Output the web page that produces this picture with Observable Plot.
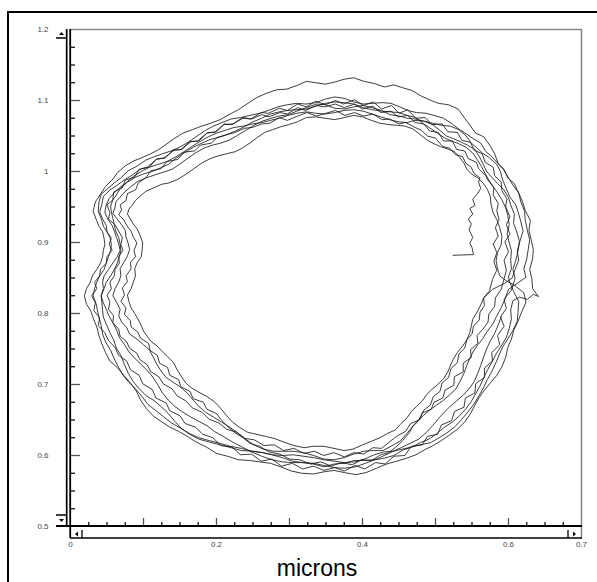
<!DOCTYPE html>
<html><head><meta charset="utf-8">
<script src="https://cdn.jsdelivr.net/npm/d3@7"></script>
<script src="https://cdn.jsdelivr.net/npm/@observablehq/plot@0.6"></script>
<style>
html,body{margin:0;padding:0;background:#fff;overflow:hidden;}
#chart{position:relative;width:597px;height:582px;}
</style></head><body><div id="chart"></div>
<script>
// Trajectory (microns), loop by loop, in drawing order
const loop1 = [[.524,.882],[.552,.883],[.550,.893],[.547,.899],[.551,.907],[.546,.918],[.549,.926],[.545,.933],[.551,.940],[.547,.948],[.554,.952],[.551,.961],[.557,.968],[.562,.976],[.559,.985],[.561,.991],[.553,.997],[.549,1.006],[.542,1.011],[.537,1.021],[.527,1.024],[.519,1.033],[.510,1.035],[.500,1.047],[.489,1.050],[.481,1.058],[.472,1.062],[.459,1.069],[.450,1.067],[.437,1.074],[.427,1.073],[.414,1.081],[.402,1.078],[.389,1.083],[.376,1.079],[.363,1.086],[.350,1.082],[.337,1.078],[.324,1.083],[.311,1.078],[.297,1.072],[.286,1.076],[.273,1.068],[.262,1.067],[.249,1.062],[.239,1.061],[.225,1.055],[.215,1.052],[.201,1.048],[.193,1.040],[.178,1.037],[.170,1.029],[.155,1.027],[.147,1.017],[.132,1.014],[.124,1.004],[.110,1.001],[.104,.992],[.093,.984],[.089,.974],[.078,.969],[.076,.959],[.068,.953],[.070,.946],[.066,.939],[.073,.932],[.077,.924],[.083,.916],[.086,.908],[.091,.899],[.087,.889],[.089,.880],[.082,.872],[.083,.863],[.076,.853],[.078,.845],[.071,.836],[.074,.826],[.069,.817],[.076,.808],[.074,.799],[.082,.790],[.083,.781],[.092,.774],[.096,.765],[.107,.758],[.109,.748],[.119,.741],[.122,.730],[.133,.724],[.136,.713],[.148,.707],[.151,.697],[.164,.690],[.168,.680],[.182,.675],[.187,.665],[.200,.659],[.206,.651],[.214,.642],[.225,.632],[.235,.626],[.246,.617],[.259,.613],[.272,.605],[.287,.602],[.300,.595],[.314,.594],[.329,.588],[.343,.591],[.357,.585],[.371,.590],[.386,.587],[.399,.594],[.412,.593],[.425,.601],[.436,.604],[.447,.613],[.455,.621],[.464,.632],[.470,.643],[.479,.652],[.484,.664],[.493,.671],[.497,.683],[.506,.690],[.509,.702],[.518,.710],[.521,.722],[.530,.731],[.532,.743],[.540,.751],[.543,.763],[.550,.771],[.552,.782],[.560,.791],[.561,.802],[.567,.811],[.566,.822],[.574,.832]];
const loop2 = [[.578,.848],[.584,.861],[.580,.873],[.584,.886],[.579,.898],[.586,.909],[.582,.921],[.587,.932],[.584,.945],[.586,.955],[.579,.967],[.580,.977],[.571,.989],[.569,.994],[.559,1.004],[.556,1.013],[.545,1.018],[.540,1.029],[.529,1.031],[.523,1.043],[.511,1.043],[.504,1.055],[.492,1.057],[.484,1.067],[.472,1.069],[.462,1.079],[.449,1.077],[.439,1.085],[.425,1.083],[.414,1.092],[.400,1.088],[.389,1.095],[.375,1.090],[.363,1.095],[.348,1.091],[.337,1.093],[.322,1.086],[.311,1.090],[.297,1.081],[.287,1.083],[.272,1.077],[.262,1.080],[.248,1.074],[.236,1.075],[.223,1.067],[.210,1.066],[.200,1.056],[.187,1.054],[.176,1.043],[.163,1.042],[.153,1.031],[.140,1.030],[.130,1.019],[.117,1.017],[.108,1.006],[.094,1.003],[.088,.992],[.075,.988],[.071,.977],[.059,.971],[.058,.960],[.050,.953],[.054,.942],[.052,.933],[.061,.925],[.066,.916],[.071,.907],[.069,.897],[.072,.889],[.066,.880],[.067,.871],[.061,.862],[.060,.853],[.054,.844],[.056,.835],[.050,.826],[.054,.816],[.052,.806],[.059,.797],[.058,.787],[.066,.778],[.068,.768],[.077,.760],[.081,.751],[.091,.744],[.095,.735],[.105,.728],[.110,.718],[.121,.711],[.127,.701],[.139,.694],[.146,.684],[.158,.677],[.167,.667],[.180,.661],[.190,.651],[.203,.646],[.214,.637],[.227,.633],[.239,.624],[.252,.622],[.265,.614],[.279,.615],[.292,.607],[.306,.610],[.320,.603],[.334,.606],[.347,.600],[.361,.604],[.375,.598],[.388,.604],[.402,.602],[.414,.611],[.426,.610],[.438,.620],[.448,.628],[.459,.634],[.466,.645],[.477,.650],[.482,.660],[.494,.665],[.498,.675],[.510,.681],[.513,.692],[.525,.699],[.526,.711],[.538,.718],[.538,.730],[.549,.738],[.548,.749],[.558,.758],[.557,.769],[.565,.778],[.572,.788],[.573,.799],[.581,.810],[.582,.822],[.590,.834]];
const loop3 = [[.594,.849],[.597,.861],[.594,.875],[.600,.887],[.595,.901],[.602,.912],[.597,.925],[.602,.936],[.596,.951],[.598,.961],[.591,.973],[.590,.985],[.581,.994],[.579,1.006],[.568,1.013],[.564,1.025],[.553,1.030],[.548,1.041],[.536,1.044],[.530,1.055],[.517,1.056],[.509,1.067],[.495,1.066],[.486,1.076],[.473,1.075],[.462,1.087],[.450,1.082],[.440,1.093],[.426,1.088],[.415,1.098],[.401,1.093],[.389,1.101],[.374,1.095],[.363,1.100],[.349,1.094],[.336,1.099],[.323,1.091],[.311,1.095],[.297,1.086],[.286,1.089],[.271,1.082],[.261,1.083],[.247,1.074],[.236,1.076],[.221,1.066],[.211,1.067],[.197,1.055],[.188,1.055],[.174,1.043],[.165,1.042],[.151,1.031],[.142,1.030],[.128,1.019],[.119,1.018],[.105,1.006],[.097,1.004],[.083,.994],[.075,.989],[.063,.980],[.054,.974],[.045,.965],[.043,.954],[.040,.943],[.044,.933],[.049,.924],[.050,.915],[.056,.906],[.053,.898],[.057,.889],[.050,.880],[.049,.871],[.041,.862],[.040,.853],[.033,.844],[.036,.835],[.029,.825],[.034,.815],[.032,.804],[.040,.794],[.038,.783],[.047,.773],[.052,.762],[.061,.752],[.066,.741],[.077,.733],[.082,.721],[.094,.713],[.099,.701],[.112,.693],[.117,.681],[.131,.674],[.136,.663],[.150,.656],[.157,.645],[.171,.640],[.181,.630],[.195,.625],[.206,.614],[.221,.612],[.233,.601],[.248,.602],[.261,.592],[.276,.595],[.289,.585],[.304,.589],[.318,.581],[.333,.585],[.347,.579],[.362,.583],[.375,.578],[.390,.586],[.403,.581],[.418,.590],[.431,.588],[.443,.599],[.458,.600],[.467,.613],[.482,.615],[.489,.627],[.503,.630],[.508,.643],[.522,.649],[.526,.662],[.539,.668],[.541,.681],[.554,.688],[.555,.701],[.567,.710],[.567,.723],[.578,.733],[.577,.745],[.588,.756],[.585,.769],[.594,.782],[.589,.795],[.597,.807],[.594,.820],[.604,.833]];
const loop4 = [[.609,.850],[.606,.862],[.610,.875],[.613,.888],[.615,.901],[.612,.913],[.607,.927],[.608,.940],[.603,.953],[.600,.963],[.594,.974],[.585,.983],[.578,.991],[.570,1.000],[.565,1.011],[.560,1.021],[.554,1.031],[.544,1.037],[.534,1.042],[.525,1.046],[.515,1.050],[.506,1.058],[.496,1.066],[.484,1.071],[.472,1.074],[.461,1.075],[.451,1.078],[.438,1.080],[.426,1.086],[.413,1.090],[.401,1.093],[.388,1.091],[.376,1.088],[.362,1.089],[.349,1.094],[.337,1.095],[.323,1.090],[.310,1.085],[.298,1.080],[.285,1.078],[.275,1.075],[.263,1.071],[.251,1.065],[.240,1.058],[.229,1.051],[.217,1.044],[.206,1.040],[.194,1.037],[.183,1.033],[.171,1.026],[.160,1.018],[.149,1.010],[.139,1.003],[.127,.999],[.115,.995],[.104,.991],[.092,.986],[.082,.978],[.074,.971],[.067,.963],[.062,.957],[.061,.949],[.058,.941],[.064,.933],[.070,.925],[.075,.917],[.076,.908],[.079,.899],[.081,.890],[.078,.881],[.073,.872],[.068,.863],[.069,.853],[.066,.844],[.061,.835],[.058,.825],[.063,.816],[.068,.806],[.066,.797],[.070,.788],[.077,.780],[.081,.771],[.091,.764],[.100,.756],[.108,.749],[.113,.739],[.118,.729],[.124,.719],[.131,.710],[.141,.703],[.151,.696],[.160,.688],[.168,.678],[.176,.669],[.185,.661],[.196,.654],[.207,.647],[.218,.640],[.229,.632],[.240,.623],[.251,.615],[.264,.609],[.278,.606],[.291,.606],[.305,.606],[.319,.604],[.333,.600],[.347,.595],[.361,.594],[.375,.597],[.388,.602],[.402,.606],[.415,.607],[.428,.607],[.439,.613],[.451,.620],[.460,.630],[.468,.640],[.476,.648],[.483,.656],[.491,.663],[.500,.670],[.510,.677],[.519,.685],[.528,.694],[.534,.705],[.539,.716],[.543,.727],[.547,.737],[.552,.747],[.558,.756],[.565,.765],[.571,.775],[.579,.786],[.584,.797],[.590,.808],[.595,.820],[.600,.834]];
const loop5 = [[.624,.851],[.621,.863],[.625,.877],[.627,.890],[.629,.904],[.626,.916],[.623,.931],[.622,.944],[.617,.957],[.614,.969],[.608,.983],[.599,.991],[.594,1.003],[.586,1.011],[.581,1.025],[.575,1.036],[.566,1.049],[.555,1.054],[.548,1.064],[.540,1.075],[.531,1.088],[.518,1.094],[.504,1.096],[.494,1.100],[.481,1.106],[.468,1.114],[.455,1.118],[.443,1.122],[.430,1.119],[.416,1.124],[.402,1.127],[.388,1.132],[.375,1.130],[.362,1.126],[.349,1.123],[.336,1.125],[.323,1.127],[.310,1.121],[.296,1.116],[.282,1.115],[.268,1.110],[.255,1.104],[.243,1.096],[.230,1.087],[.217,1.080],[.205,1.073],[.192,1.068],[.180,1.064],[.167,1.059],[.154,1.054],[.143,1.047],[.132,1.039],[.121,1.031],[.110,1.025],[.099,1.020],[.087,1.015],[.075,1.008],[.065,.999],[.057,.988],[.048,.979],[.041,.968],[.034,.957],[.031,.944],[.035,.933],[.039,.923],[.044,.915],[.046,.906],[.047,.897],[.045,.889],[.044,.880],[.041,.871],[.036,.862],[.030,.853],[.027,.844],[.022,.835],[.019,.825],[.022,.813],[.028,.803],[.032,.791],[.036,.781],[.039,.769],[.043,.757],[.048,.745],[.054,.733],[.064,.724],[.073,.713],[.083,.701],[.090,.691],[.096,.678],[.104,.666],[.113,.656],[.124,.648],[.136,.640],[.148,.634],[.160,.627],[.172,.619],[.186,.612],[.200,.603],[.215,.599],[.230,.594],[.245,.593],[.259,.591],[.274,.589],[.288,.584],[.303,.578],[.317,.575],[.333,.574],[.347,.577],[.361,.579],[.375,.576],[.391,.573],[.405,.576],[.419,.582],[.433,.588],[.447,.592],[.460,.596],[.473,.601],[.485,.608],[.497,.614],[.508,.621],[.518,.628],[.530,.637],[.540,.647],[.548,.659],[.554,.671],[.560,.682],[.567,.692],[.575,.702],[.584,.713],[.591,.725],[.596,.738],[.599,.752],[.604,.764],[.607,.776],[.613,.789],[.618,.802],[.624,.816],[.621,.829],[.608,.840],[.597,.846]];
const loop6 = [[.588,.853],[.585,.863],[.583,.874],[.585,.886],[.590,.897],[.591,.909],[.588,.921],[.584,.932],[.579,.942],[.576,.954],[.575,.965],[.571,.975],[.565,.984],[.558,.991],[.550,.996],[.543,1.003],[.539,1.012],[.533,1.020],[.526,1.028],[.516,1.032],[.507,1.035],[.498,1.039],[.489,1.044],[.479,1.052],[.469,1.060],[.458,1.064],[.448,1.065],[.436,1.066],[.424,1.068],[.412,1.072],[.400,1.077],[.388,1.079],[.375,1.076],[.362,1.073],[.349,1.075],[.336,1.077],[.323,1.076],[.311,1.070],[.299,1.066],[.288,1.063],[.277,1.059],[.266,1.055],[.256,1.048],[.247,1.041],[.237,1.034],[.226,1.028],[.214,1.025],[.202,1.022],[.191,1.018],[.180,1.012],[.169,1.004],[.158,.996],[.147,.989],[.135,.984],[.125,.982],[.114,.977],[.103,.972],[.095,.965],[.089,.959],[.084,.952],[.080,.947],[.078,.940],[.082,.933],[.086,.926],[.092,.918],[.096,.908],[.099,.899],[.098,.889],[.097,.880],[.091,.871],[.088,.863],[.089,.853],[.086,.844],[.083,.835],[.078,.826],[.080,.817],[.083,.808],[.088,.800],[.093,.791],[.097,.783],[.100,.775],[.105,.768],[.111,.760],[.119,.754],[.126,.746],[.133,.739],[.141,.731],[.146,.721],[.152,.711],[.158,.702],[.166,.695],[.176,.689],[.187,.683],[.197,.676],[.206,.666],[.214,.656],[.222,.647],[.231,.640],[.242,.633],[.254,.630],[.267,.627],[.279,.624],[.292,.619],[.306,.614],[.320,.611],[.333,.613],[.347,.613],[.361,.610],[.375,.607],[.387,.609],[.400,.615],[.412,.620],[.424,.625],[.434,.631],[.445,.636],[.452,.644],[.461,.653],[.467,.662],[.474,.669],[.482,.677],[.488,.686],[.495,.693],[.503,.700],[.511,.708],[.517,.718],[.521,.728],[.525,.737],[.530,.745],[.537,.754],[.543,.763],[.547,.773],[.549,.782],[.551,.792],[.557,.802],[.562,.812],[.566,.822],[.578,.834]];
const loop7 = [[.594,.842],[.605,.850],[.609,.862],[.614,.875],[.612,.888],[.616,.903],[.620,.916],[.617,.929],[.614,.940],[.610,.953],[.602,.964],[.597,.976],[.592,.988],[.589,1.000],[.584,1.010],[.573,1.020],[.564,1.026],[.557,1.033],[.549,1.040],[.542,1.050],[.532,1.059],[.520,1.064],[.509,1.065],[.496,1.068],[.484,1.071],[.472,1.072],[.461,1.069],[.449,1.070],[.437,1.073],[.425,1.077],[.413,1.081],[.401,1.085],[.388,1.087],[.375,1.086],[.362,1.083],[.349,1.081],[.336,1.082],[.323,1.084],[.310,1.082],[.298,1.079],[.286,1.075],[.274,1.072],[.262,1.069],[.249,1.067],[.237,1.064],[.224,1.062],[.212,1.058],[.200,1.054],[.189,1.049],[.177,1.042],[.166,1.035],[.154,1.027],[.143,1.020],[.132,1.014],[.120,1.010],[.108,1.006],[.097,1.000],[.086,.993],[.077,.985],[.067,.977],[.060,.970],[.053,.962],[.049,.953],[.047,.943],[.051,.933],[.057,.924],[.060,.916],[.063,.907],[.066,.898],[.068,.889],[.064,.880],[.058,.871],[.052,.862],[.046,.853],[.044,.844],[.045,.835],[.042,.825],[.043,.815],[.044,.804],[.045,.795],[.049,.785],[.054,.773],[.059,.763],[.063,.751],[.069,.741],[.074,.728],[.079,.716],[.086,.704],[.094,.694],[.104,.684],[.115,.677],[.125,.668],[.134,.659],[.143,.648],[.152,.638],[.163,.630],[.176,.623],[.190,.619],[.205,.615],[.220,.611],[.234,.607],[.249,.606],[.263,.604],[.276,.601],[.290,.597],[.304,.592],[.318,.590],[.333,.588],[.347,.584],[.361,.588],[.375,.589],[.389,.593],[.403,.593],[.417,.594],[.429,.596],[.443,.600],[.456,.608],[.468,.612],[.479,.618],[.491,.623],[.502,.631],[.511,.639],[.523,.647],[.533,.656],[.541,.665],[.549,.676],[.555,.687],[.561,.698],[.566,.709],[.571,.720],[.577,.731],[.583,.743],[.590,.754],[.597,.766],[.601,.779],[.604,.792],[.603,.805],[.606,.818],[.615,.823]];
const loop8 = [[.626,.820],[.634,.827],[.641,.824],[.633,.835],[.632,.849],[.629,.862],[.633,.877],[.634,.890],[.631,.904],[.628,.917],[.630,.931],[.623,.945],[.619,.958],[.614,.970],[.606,.981],[.600,.991],[.593,1.003],[.585,1.012],[.577,1.021],[.569,1.028],[.562,1.040],[.552,1.046],[.542,1.053],[.533,1.059],[.523,1.067],[.511,1.075],[.498,1.079],[.487,1.082],[.474,1.083],[.462,1.086],[.451,1.091],[.439,1.096],[.427,1.097],[.414,1.096],[.401,1.095],[.388,1.098],[.375,1.103],[.362,1.105],[.349,1.102],[.336,1.097],[.323,1.095],[.310,1.096],[.297,1.094],[.284,1.091],[.271,1.086],[.259,1.082],[.246,1.079],[.233,1.076],[.220,1.074],[.208,1.069],[.196,1.064],[.185,1.058],[.172,1.049],[.161,1.041],[.149,1.034],[.138,1.029],[.126,1.025],[.115,1.021],[.103,1.016],[.092,1.008],[.079,1.001],[.069,.991],[.060,.984],[.051,.976],[.042,.968],[.039,.957],[.038,.944],[.042,.934],[.045,.923],[.050,.915],[.054,.907],[.056,.898],[.055,.889],[.052,.880],[.049,.871],[.046,.862],[.040,.853],[.036,.844],[.033,.835],[.031,.825],[.035,.814],[.037,.804],[.039,.794],[.042,.783],[.044,.771],[.048,.760],[.055,.748],[.060,.736],[.066,.724],[.072,.713],[.080,.703],[.089,.694],[.098,.683],[.106,.672],[.116,.664],[.127,.655],[.138,.646],[.150,.639],[.163,.631],[.176,.625],[.190,.621],[.205,.617],[.219,.613],[.234,.610],[.249,.606],[.264,.604],[.277,.601],[.291,.600],[.305,.601],[.319,.599],[.333,.597],[.347,.594],[.361,.592],[.375,.590],[.389,.591],[.403,.595],[.416,.601],[.429,.605],[.442,.606],[.455,.609],[.467,.612],[.479,.615],[.493,.618],[.505,.625],[.516,.632],[.527,.641],[.536,.651],[.545,.662],[.553,.673],[.560,.685],[.566,.696],[.571,.707],[.577,.718],[.582,.729],[.587,.741],[.592,.753],[.599,.764],[.606,.776],[.612,.789],[.613,.802],[.614,.817],[.607,.831]];
const loop9 = [[.601,.846],[.600,.852],[.604,.863],[.603,.875],[.604,.888],[.601,.900],[.598,.912],[.601,.925],[.599,.938],[.596,.949],[.591,.960],[.585,.970],[.579,.979],[.573,.988],[.568,.997],[.563,1.007],[.557,1.017],[.551,1.026],[.542,1.034],[.532,1.039],[.522,1.043],[.513,1.047],[.504,1.053],[.494,1.060],[.484,1.067],[.473,1.076],[.461,1.079],[.450,1.083],[.438,1.084],[.426,1.085],[.413,1.087],[.401,1.090],[.388,1.095],[.375,1.097],[.362,1.098],[.349,1.096],[.336,1.092],[.323,1.088],[.310,1.087],[.298,1.086],[.286,1.084],[.274,1.081],[.262,1.075],[.250,1.070],[.238,1.063],[.226,1.057],[.214,1.052],[.203,1.048],[.191,1.045],[.180,1.040],[.168,1.034],[.157,1.027],[.145,1.019],[.134,1.010],[.123,1.005],[.112,1.000],[.101,.997],[.089,.992],[.078,.985],[.068,.976],[.063,.967],[.058,.960],[.055,.951],[.056,.943],[.058,.934],[.060,.925],[.062,.916],[.066,.907],[.068,.898],[.069,.889],[.067,.880],[.064,.871],[.060,.862],[.055,.853],[.049,.844],[.046,.835],[.042,.825],[.045,.815],[.049,.806],[.053,.796],[.058,.787],[.063,.777],[.067,.766],[.074,.756],[.080,.746],[.088,.737],[.097,.728],[.106,.719],[.113,.710],[.120,.699],[.126,.688],[.134,.678],[.143,.669],[.154,.661],[.165,.654],[.176,.648],[.187,.642],[.197,.634],[.209,.627],[.222,.619],[.235,.612],[.248,.605],[.262,.599],[.276,.594],[.290,.591],[.304,.590],[.318,.590],[.333,.589],[.347,.586],[.361,.583],[.375,.582],[.390,.584],[.404,.589],[.417,.594],[.430,.600],[.442,.606],[.453,.611],[.465,.617],[.477,.623],[.487,.632],[.496,.642],[.504,.652],[.512,.661],[.520,.669],[.529,.677],[.538,.685],[.546,.694],[.553,.704],[.558,.716],[.562,.727],[.566,.739],[.570,.750],[.575,.761],[.581,.772],[.586,.784],[.590,.795]];

// Axes
const xDomain = [0, 0.7];
const yDomain = [0.5, 1.2];
const xMajorTicks = [0.1, 0.2, 0.3, 0.4, 0.5, 0.6];
const xMinorTicks = [0.025, 0.05, 0.075, 0.125, 0.15, 0.175, 0.225, 0.25, 0.275, 0.325, 0.35, 0.375, 0.425, 0.45, 0.475, 0.525, 0.55, 0.575, 0.625, 0.65, 0.675];
const xTickLabels = [0, 0.2, 0.4, 0.6, 0.7];
const yMajorTicks = [0.6, 0.7, 0.8, 0.9, 1.0, 1.1];
const yMinorTicks = [0.525, 0.55, 0.575, 0.625, 0.65, 0.675, 0.725, 0.75, 0.775, 0.825, 0.85, 0.875, 0.925, 0.95, 0.975, 1.025, 1.05, 1.075, 1.125, 1.15, 1.175];
const yTickLabels = [0.5, 0.6, 0.7, 0.8, 0.9, 1.0, 1.1, 1.2];
const xTitle = "microns";

const loops = [loop1, loop2, loop3, loop4, loop5, loop6, loop7, loop8, loop9];
const path = loops.flat().map(([x, y], i) => ({x, y, i}));

const W = 597, H = 582;
const mL = 70, mR = 16, mT = 29, mB = 56;
const frameW = W - mL - mR, frameH = H - mT - mB;
const font = "'Liberation Sans', Arial, Helvetica, sans-serif";

const plot = Plot.plot({
  width: W, height: H,
  marginLeft: mL, marginRight: mR, marginTop: mT, marginBottom: mB,
  style: {fontFamily: font, background: "#fff", overflow: "hidden"},
  x: {domain: xDomain, label: null},
  y: {domain: yDomain, label: null},
  marks: [
    Plot.line(path, {x: "x", y: "y", stroke: "#1a1a1a", strokeWidth: 0.85, curve: "linear"}),
    Plot.tickY(yMajorTicks, {y: d => d, insetRight: frameW - 10, stroke: "#555", strokeWidth: 1.3}),
    Plot.tickY(yMinorTicks, {y: d => d, insetRight: frameW - 5, stroke: "#000", strokeWidth: 1.2}),
    Plot.tickX(xMajorTicks, {x: d => d, insetTop: frameH - 8, stroke: "#555", strokeWidth: 1.3}),
    Plot.tickX(xMinorTicks, {x: d => d, insetTop: frameH - 4, stroke: "#000", strokeWidth: 1.2}),
    Plot.axisY({ticks: yTickLabels, tickSize: 0, tickPadding: 22, fontSize: 8, fill: "#444", tickFormat: d => `${d}`, label: null}),
    Plot.axisX({ticks: xTickLabels, tickSize: 0, tickPadding: 15, fontSize: 8, fill: "#444", tickFormat: d => `${d}`, label: null}),
    Plot.text([xTitle], {frameAnchor: "bottom", text: d => d, dx: -9, dy: 42, fontSize: 23, fill: "#000", lineAnchor: "middle", fontFamily: font})
  ]
});

document.getElementById("chart").appendChild(plot);

// Window chrome (frame, scrollbars), positioned from the plot's scales
const svg = d3.select(plot);
const X = plot.scale("x"), Y = plot.scale("y");
const x0 = X.apply(0), x1 = W - mR, y1 = Y.apply(yDomain[1]), y0 = Y.apply(yDomain[0]);
const g = svg.append("g").attr("fill", "none");
g.append("path").attr("d", `M8,${H + 10}V12H${W + 10}`).attr("stroke", "#000").attr("stroke-width", 2);
g.append("path").attr("d", `M${x0},${y1 + 0.5}H${x1 + 0.5}V${y0 + 12}`).attr("stroke", "#8a8a8a").attr("stroke-width", 1.6);
g.append("path").attr("d", `M${x0 - 3.3},${y1}V${y0}`).attr("stroke", "#000").attr("stroke-width", 1.7);
g.append("path").attr("d", `M${x0 + 0.2},${y1}V${y0 + 12}`).attr("stroke", "#000").attr("stroke-width", 1.8);
g.append("path").attr("d", `M${x0 - 14},${y0}H${x1 + 1}`).attr("stroke", "#000").attr("stroke-width", 2);
g.append("path").attr("d", `M${x0},${y0 + 12}H${x1 + 1}`).attr("stroke", "#000").attr("stroke-width", 1.7);
g.append("path").attr("d", `M${x0 + 12},${y0 + 4}V${y0 + 12}M${x1 - 13},${y0 + 4}V${y0 + 12}`).attr("stroke", "#000").attr("stroke-width", 1.3);
g.append("path").attr("d", `M${x0 - 14},${y1 + 9}H${x0 - 3}M${x0 - 14},${y0 - 11}H${x0 - 3}`).attr("stroke", "#000").attr("stroke-width", 1.5);
const tri = (d) => g.append("path").attr("d", d).attr("fill", "#000").attr("stroke", "none");
tri(`M${x0 - 11},${y1 + 6}L${x0 - 6},${y1 + 6}L${x0 - 8.5},${y1 + 3}Z`);
tri(`M${x0 - 11},${y0 - 7}L${x0 - 6},${y0 - 7}L${x0 - 8.5},${y0 - 4}Z`);
tri(`M${x0 + 8},${y0 + 5.5}L${x0 + 8},${y0 + 10.5}L${x0 + 5},${y0 + 8}Z`);
tri(`M${x1 - 8},${y0 + 5.5}L${x1 - 8},${y0 + 10.5}L${x1 - 5},${y0 + 8}Z`);
</script>
</body></html>
